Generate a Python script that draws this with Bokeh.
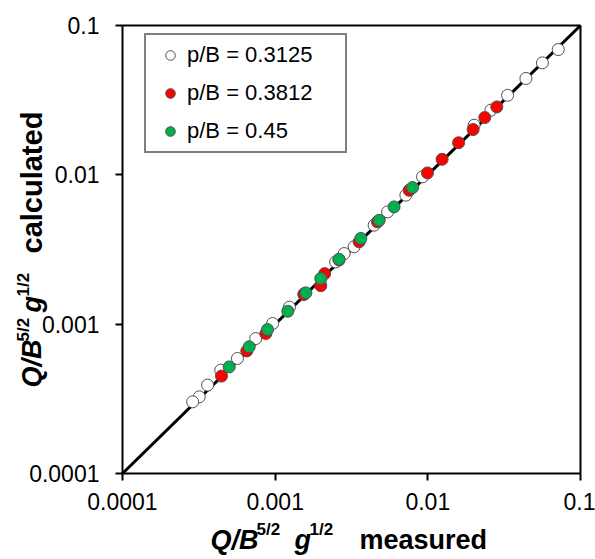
import math
from bokeh.plotting import figure
from bokeh.models import (Range1d, FixedTicker, Label, Legend, LegendItem, LogAxis)
from bokeh.embed import file_html
from bokeh.resources import INLINE

# ---------------- data ----------------
tick_values = [0.0001, 0.001, 0.01, 0.1]
tick_labels = ["0.0001", "0.001", "0.01", "0.1"]
axis_min = 0.0001
axis_max = 0.1

series_names = ["p/B = 0.3125", "p/B = 0.3812", "p/B = 0.45"]

white_measured = [0.0715, 0.0563, 0.0439, 0.0333, 0.0259, 0.0201, 0.00923, 0.00718,
                  0.00545, 0.00445, 0.00329, 0.00283, 0.00249, 0.00155, 0.00124,
                  0.000962, 0.000746, 0.000566, 0.00044, 0.000361, 0.000318, 0.000288]
white_calc = [0.069, 0.0562, 0.0442, 0.0341, 0.0271, 0.0215, 0.0097, 0.00731,
              0.00565, 0.0046, 0.0033, 0.00297, 0.00261, 0.0016, 0.0013,
              0.00101, 0.000801, 0.000589, 0.000492, 0.000391, 0.000326, 0.000302]

red_measured = [0.0283, 0.0236, 0.0198, 0.0159, 0.0124, 0.00995, 0.00755, 0.00468,
                0.00355, 0.00262, 0.00211, 0.00199, 0.00154, 0.000869, 0.000652, 0.000445]
red_calc = [0.0285, 0.0242, 0.0201, 0.0164, 0.0127, 0.0103, 0.00788, 0.00484,
            0.00356, 0.00269, 0.00218, 0.00181, 0.00158, 0.000866, 0.000662, 0.000449]

green_measured = [0.00794, 0.00601, 0.0048, 0.00364, 0.00262, 0.00199, 0.00159,
                  0.00121, 0.000891, 0.000676, 0.0005]
green_calc = [0.00822, 0.0061, 0.00496, 0.00375, 0.00272, 0.00202, 0.00162,
              0.00122, 0.00092, 0.000705, 0.000517]

FONT = "Liberation Sans"

# ---------------- layout (pixels) ----------------
W, H = 595, 559
BOX_L, BOX_R, BOX_T, BOX_B = 122, 580, 25, 473      # plotting box on the canvas
lo, hi = math.log10(axis_min), math.log10(axis_max)
dx = (BOX_R - BOX_L) / (hi - lo)
dy = (BOX_B - BOX_T) / (hi - lo)
x_start = 10 ** (lo - BOX_L / dx)
x_end = 10 ** (hi + (W - BOX_R) / dx)
y_start = 10 ** (lo - (H - BOX_B) / dy)
y_end = 10 ** (hi + BOX_T / dy)

p = figure(width=W, height=H, x_axis_type="log", y_axis_type="log",
           x_range=Range1d(x_start, x_end), y_range=Range1d(y_start, y_end),
           output_backend="svg", toolbar_location=None, title=None,
           min_border=0, min_border_left=0, min_border_right=0,
           min_border_top=0, min_border_bottom=0)
p.background_fill_color = "white"
p.border_fill_color = "white"
p.outline_line_color = None
p.xgrid.visible = False
p.ygrid.visible = False

overrides = {v: l for v, l in zip(tick_values, tick_labels)}
for ax in (p.xaxis[0], p.yaxis[0]):
    ax.fixed_location = axis_min
    ax.bounds = (axis_min, axis_max)
    ax.ticker = FixedTicker(ticks=tick_values, minor_ticks=[])
    ax.major_label_overrides = overrides
    ax.axis_line_color = "black"
    ax.axis_line_width = 2
    ax.major_tick_line_color = "black"
    ax.major_tick_line_width = 2
    ax.major_tick_out = 7
    ax.major_tick_in = 0
    ax.minor_tick_line_color = None
    ax.major_label_text_font = FONT
    ax.major_label_text_font_size = "23px"
    ax.major_label_text_color = "black"
p.xaxis[0].major_label_standoff = 12
p.yaxis[0].major_label_standoff = 16

# top and right edges of the box
for side in ("above", "right"):
    bx = LogAxis(fixed_location=axis_max, bounds=(axis_min, axis_max),
                 ticker=FixedTicker(ticks=[], minor_ticks=[]),
                 axis_line_color="black", axis_line_width=2,
                 major_tick_line_color=None, minor_tick_line_color=None,
                 major_label_text_alpha=0)
    p.add_layout(bx, side)

# 1:1 line
p.line([axis_min, axis_max], [axis_min, axis_max], line_color="black", line_width=3)

r_white = p.scatter(white_measured, white_calc, size=12, fill_color="white",
                    line_color="#505050", line_width=1)
r_red = p.scatter(red_measured, red_calc, size=12, fill_color="#FF0000",
                  line_color="#505050", line_width=1)
r_green = p.scatter(green_measured, green_calc, size=12, fill_color="#00B050",
                    line_color="#505050", line_width=1)

legend = Legend(items=[LegendItem(label=series_names[0], renderers=[r_white]),
                       LegendItem(label=series_names[1], renderers=[r_red]),
                       LegendItem(label=series_names[2], renderers=[r_green])],
                location=(144, H - 153))
legend.padding = 7
legend.spacing = 12
legend.glyph_width = 34
legend.glyph_height = 24
legend.label_height = 24
legend.label_width = 151
legend.label_standoff = 0
legend.margin = 0
legend.border_line_color = "black"
legend.border_line_width = 2
legend.background_fill_color = "white"
legend.background_fill_alpha = 1.0
legend.label_text_font = FONT
legend.label_text_font_size = "22px"
legend.label_text_color = "black"
p.add_layout(legend, "center")

# ---------------- axis titles (composed of pieces) ----------------
def lab(text, x, y, size, style, angle=0.0):
    p.add_layout(Label(x=x, y=y, x_units="screen", y_units="screen", text=text,
                       text_font=FONT, text_font_size=size, text_font_style=style,
                       text_color="black", text_align="left",
                       text_baseline="alphabetic", angle=angle))

# x title (y measured up from canvas bottom)
lab("Q/B", 210, 20, "27px", "bold italic")
lab("5/2", 256, 30, "17px", "bold")
lab("g", 294, 20, "27px", "bold italic")
lab("1/2", 309, 30, "17px", "bold")
lab("measured", 359, 20, "27px", "bold")

# y title (rotated, reads bottom to top)
A = math.pi / 2
lab("Q/B", 31, 172, "27px", "bold italic", A)
lab("5/2", 23, 218, "17px", "bold", A)
lab("g", 31, 247, "27px", "bold italic", A)
lab("1/2", 23, 263, "17px", "bold", A)
lab("calculated", 31, 306, "29px", "bold", A)

open("out.html", "w").write(file_html(p, INLINE))
